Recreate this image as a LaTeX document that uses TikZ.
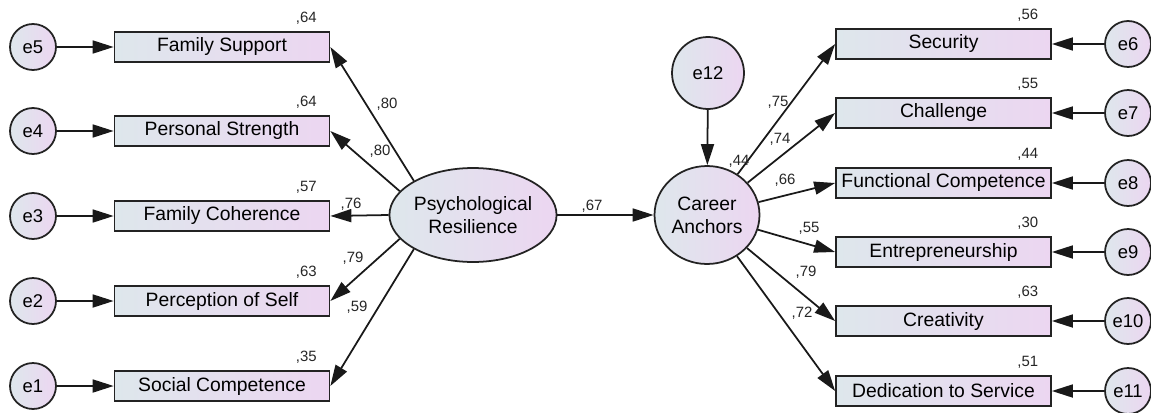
\documentclass[tikz,border=0pt]{standalone}
\usepackage{fontspec}
\setmainfont{Liberation Sans}
\usetikzlibrary{positioning,arrows.meta,shapes.geometric,calc}

\definecolor{fillL}{RGB}{222,231,236}
\definecolor{fillR}{RGB}{236,214,241}
\definecolor{edge}{RGB}{35,35,35}

\begin{document}
\begin{tikzpicture}[
  x=0.02cm, y=-0.02cm,
  font=\fontsize{11}{13}\selectfont,
  obs/.style={draw=edge, line width=1pt, minimum width=4.3cm, minimum height=0.6cm, inner sep=0pt, left color=fillL, right color=fillR},
  err/.style={circle, draw=edge, line width=1pt, minimum size=0.92cm, inner sep=0pt, left color=fillL, right color=fillR, font=\fontsize{10.5}{12}\selectfont},
  lat/.style={ellipse, draw=edge, line width=1pt, inner sep=0pt, left color=fillL, right color=fillR, align=center},
  coef/.style={font=\fontsize{8.5}{10}\selectfont, inner sep=0pt, text=black!85},
  link/.style={line width=1pt, draw=black!90, -{Triangle[length=4.2mm,width=2.6mm]}}
]
\useasboundingbox (0,0) rectangle (1151,412);

% x-positions (px of the reference, y runs downward)
\def\xeL{33}
\def\xbL{222}
\def\xbR{943.5}
\def\xeR{1128}

% Latent variables
\node[lat, minimum width=3.22cm, minimum height=1.88cm] (pr) at (473,215) {Psychological\\Resilience};
\node[lat, minimum width=2.1cm, minimum height=1.96cm] (ca) at (707,215) {Career\\Anchors};
\node[err, minimum size=1.44cm] (e12) at (708,73) {e12};

% Psychological Resilience indicators (left)
\node[obs] (fs) at (\xbL,47)  {Family Support};
\node[obs] (ps) at (\xbL,131) {Personal Strength};
\node[obs] (fc) at (\xbL,216) {Family Coherence};
\node[obs] (pe) at (\xbL,301) {Perception of Self};
\node[obs] (sc) at (\xbL,386) {Social Competence};

\node[err] (e5) at (\xeL,47)  {e5};
\node[err] (e4) at (\xeL,131) {e4};
\node[err] (e3) at (\xeL,216) {e3};
\node[err] (e2) at (\xeL,301) {e2};
\node[err] (e1) at (\xeL,386) {e1};

% Career Anchors indicators (right)
\node[obs] (se) at (\xbR,44)  {Security};
\node[obs] (ch) at (\xbR,113) {Challenge};
\node[obs] (fu) at (\xbR,183) {Functional Competence};
\node[obs] (en) at (\xbR,252) {Entrepreneurship};
\node[obs] (cr) at (\xbR,321) {Creativity};
\node[obs] (de) at (\xbR,391) {Dedication to Service};

\node[err] (e6)  at (\xeR,44)  {e6};
\node[err] (e7)  at (\xeR,113) {e7};
\node[err] (e8)  at (\xeR,183) {e8};
\node[err] (e9)  at (\xeR,252) {e9};
\node[err] (e10) at (\xeR,321) {e10};
\node[err] (e11) at (\xeR,391) {e11};

% Error terms
\draw[link] (e5) -- (fs.west);
\draw[link] (e4) -- (ps.west);
\draw[link] (e3) -- (fc.west);
\draw[link] (e2) -- (pe.west);
\draw[link] (e1) -- (sc.west);
\draw[link] (e6) -- (se.east);
\draw[link] (e7) -- (ch.east);
\draw[link] (e8) -- (fu.east);
\draw[link] (e9) -- (en.east);
\draw[link] (e10) -- (cr.east);
\draw[link] (e11) -- (de.east);
\draw[link] (e12) -- (ca);

% Loadings
\draw[link] (pr.150) -- (fs.east);
\draw[link] (pr.162) -- (ps.east);
\draw[link] (pr.180) -- (fc.east);
\draw[link] (pr.198) -- (pe.east);
\draw[link] (pr.210) -- (sc.east);
\draw[link] (pr) -- (ca);
\draw[link] (ca) -- (se.west);
\draw[link] (ca) -- (ch.west);
\draw[link] (ca) -- (fu.west);
\draw[link] (ca) -- (en.west);
\draw[link] (ca) -- (cr.west);
\draw[link] (ca) -- (de.west);

% Squared multiple correlations
\node[coef] at ($(fs.north east)+(-24,-13)$) {,64};
\node[coef] at ($(ps.north east)+(-24,-13)$) {,64};
\node[coef] at ($(fc.north east)+(-24,-13)$) {,57};
\node[coef] at ($(pe.north east)+(-24,-13)$) {,63};
\node[coef] at ($(sc.north east)+(-24,-13)$) {,35};
\node[coef] at ($(se.north east)+(-24,-13)$) {,56};
\node[coef] at ($(ch.north east)+(-24,-13)$) {,55};
\node[coef] at ($(fu.north east)+(-24,-13)$) {,44};
\node[coef] at ($(en.north east)+(-24,-13)$) {,30};
\node[coef] at ($(cr.north east)+(-24,-13)$) {,63};
\node[coef] at ($(de.north east)+(-24,-13)$) {,51};
\node[coef] at (739,161) {,44};

% Path coefficients
\node[coef] at (387,104) {,80};
\node[coef] at (380,151) {,80};
\node[coef] at (351,204) {,76};
\node[coef] at (353,258) {,79};
\node[coef] at (357,307) {,59};
\node[coef] at (592,206) {,67};
\node[coef] at (778,102) {,75};
\node[coef] at (780,139) {,74};
\node[coef] at (785,180) {,66};
\node[coef] at (809,228) {,55};
\node[coef] at (806,272) {,79};
\node[coef] at (802,313) {,72};

\end{tikzpicture}
\end{document}
